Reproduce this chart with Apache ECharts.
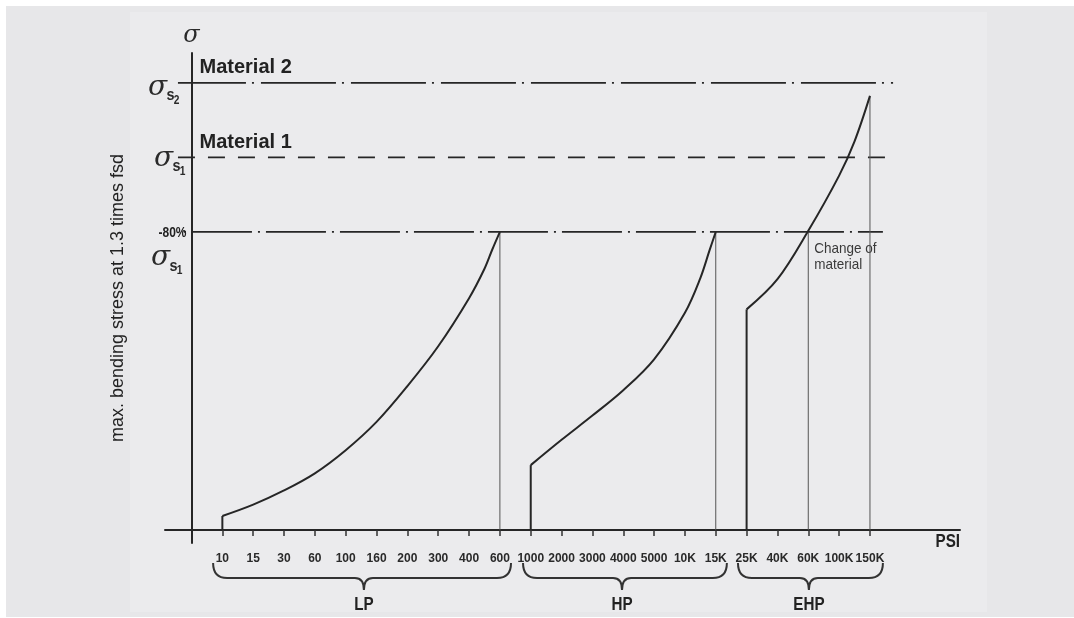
<!DOCTYPE html>
<html><head><meta charset="utf-8">
<script src="https://cdn.jsdelivr.net/npm/echarts@6/dist/echarts.min.js"></script>
<style>html,body{margin:0;padding:0;background:#fff}#c{width:1074px;height:618px}</style>
</head><body><div id="c"></div>
<script>
// ---- data ----
const categories = ['10','15','30','60','100','160','200','300','400','600','1000','2000','3000','4000','5000','10K','15K','25K','40K','60K','100K','150K'];
// category i is placed at x = i + 1 (the stress axis sits at x = 0)
const lpStart  = [[1,0],[1,3.75]];
const lpCurve  = [[1,3.75],[2,6.8],[3,10.6],[4,15.2],[5,21.4],[6,29.0],[7,38.6],[8,49.3],[9,62.2],[9.5,70.1],[9.75,75.2],[10,80]];
const hpStart  = [[11,0],[11,17.4]];
const hpCurve  = [[11,17.4],[12,24.2],[13,30.7],[14,37.5],[15,45.8],[16,58.3],[16.5,67.6],[16.8,75.1],[17,80]];
const ehpStart = [[18,0],[18,59.2]];
const ehpCurve = [[18,59.2],[19,67.3],[20,80.3],[21,95.1],[21.5,104.3],[22,116.5]];
const dropLines = [[[10,0],[10,80]],[[17,0],[17,80]],[[20,0],[20,80]],[[22,0],[22,116.5]]];
const sigmaS2 = 120, sigmaS1 = 100, pct80 = 80;
const lineS2  = [[-0.44,sigmaS2],[22.75,sigmaS2]];
const lineS1  = [[-0.44,sigmaS1],[22.49,sigmaS1]];
const line80  = [[-0.44,pct80],[22.42,pct80]];
const groupNames = ['LP','HP','EHP'];
const groupSpans = [[0.7,10.36,5.59],[10.75,17.36,13.96],[17.72,22.42,20.02]];

const SANS = "'Liberation Sans',Arial,sans-serif";
const INK = '#262626';

function lineSeries(data, opts) {
  return Object.assign({
    type:'line', data, symbol:'none', silent:true, animation:false,
    lineStyle:{color:INK, width:2}, z:3
  }, opts || {});
}

const series = [
  lineSeries(lineS2, {lineStyle:{color:INK, width:1.8, type:[75,6,2,7], dashOffset:7}}),
  lineSeries(lineS1, {lineStyle:{color:INK, width:1.8, type:[17,13]}}),
  lineSeries(line80, {lineStyle:{color:INK, width:1.8, type:[60,6,2,6], dashOffset:-14}}),
  ...dropLines.map(d => lineSeries(d, {lineStyle:{color:'#555', width:1}})),
  lineSeries(lpStart), lineSeries(hpStart), lineSeries(ehpStart),
  lineSeries(lpCurve, {smooth:0.35}),
  lineSeries(hpCurve, {smooth:0.35}),
  lineSeries(ehpCurve, {smooth:0.35}),
  {
    type:'custom', coordinateSystem:'cartesian2d', clip:false, silent:true, animation:false,
    data: groupSpans,
    renderItem(params, api) {
      const s = api.value(0), e = api.value(1), c = api.value(2);
      const p0 = api.coord([s,0]), p1 = api.coord([e,0]), pc = api.coord([c,0]);
      const y0 = p0[1];
      const top = y0 + 33, mid = y0 + 48, tip = y0 + 60, r = 14;
      const d = `M${p0[0]},${top} Q${p0[0]},${mid} ${p0[0]+r},${mid} L${pc[0]-9},${mid} Q${pc[0]},${mid} ${pc[0]},${tip} Q${pc[0]},${mid} ${pc[0]+9},${mid} L${p1[0]-r},${mid} Q${p1[0]},${mid} ${p1[0]},${top}`;
      return {type:'group', children:[
        {type:'path', shape:{pathData:d}, style:{fill:'none', stroke:'#333', lineWidth:2}},
        {type:'text', x:pc[0], y:y0+75, scaleX:0.8, style:{text:groupNames[params.dataIndex], align:'center', verticalAlign:'middle',
          fontSize:19, fontWeight:'bold', fontFamily:SANS, fill:'#222'}}
      ]};
    }
  }
];

const option = {
  backgroundColor:'#ffffff',
  animation:false,
  grid:{left:165, right:114, top:53, bottom:75, containLabel:false, outerBoundsMode:'none'},
  xAxis:{
    type:'value', min:-0.86, max:24.92,
    axisLine:{show:true, onZero:true, lineStyle:{color:INK, width:2}},
    splitLine:{show:false},
    axisTick:{show:true, inside:false, length:6, customValues:categories.map((c,i)=>i+1), lineStyle:{color:'#333', width:1.5}},
    axisLabel:{show:true, margin:10, hideOverlap:false, customValues:categories.map((c,i)=>i+1),
      formatter:v => categories[Math.round(v)-1] || '',
      fontFamily:SANS, fontWeight:'bold', fontSize:12, color:'#2a2a2a'}
  },
  yAxis:{
    type:'value', min:-3.5, max:128,
    axisLine:{show:true, onZero:true, lineStyle:{color:INK, width:2}},
    splitLine:{show:false}, axisTick:{show:false}, axisLabel:{show:false},
    name:'max. bending stress at 1.3 times fsd', nameLocation:'middle', nameRotate:90, nameGap:38,
    nameMoveOverlap:false,
    nameTextStyle:{fontFamily:SANS, fontSize:18, color:'#222'}
  },
  series
};

const chart = echarts.init(document.getElementById('c'), null, {renderer:'canvas'});
chart.setOption(option);

const px = (u,v) => chart.convertToPixel({gridIndex:0}, [u,v]);
const [ax0, y2] = px(0, sigmaS2);
const y1 = px(0, sigmaS1)[1];
const y8 = px(0, pct80)[1];
const yTop = px(0, 128)[1];
const [xEnd, yAxisX] = px(24.92, 0);
const xChange = px(20, 0)[0];

function sig(x, y, digit) {
  return [
    {type:'text', x:x, y:y+2, style:{text:'σ', font:"italic 28px 'DejaVu Serif',serif", fill:'#2a2a2a', align:'center', verticalAlign:'middle'}},
    {type:'text', x:x+13, y:y+10, scaleX:0.85, style:{text:'s', font:"bold 17px "+SANS, fill:'#2a2a2a', align:'center', verticalAlign:'middle'}},
    {type:'text', x:x+19, y:y+15, scaleX:0.85, style:{text:digit, font:"bold 12px "+SANS, fill:'#2a2a2a', align:'center', verticalAlign:'middle'}}
  ];
}
function txt(x, y, text, font, extra, sx) {
  return {type:'text', x, y, scaleX:sx||1, style:Object.assign({text, font, fill:'#222', align:'left', verticalAlign:'middle'}, extra||{})};
}

chart.setOption({
  graphic:[
    {type:'rect', z:-100, silent:true, shape:{x:6, y:6, width:1068, height:611}, style:{fill:'#e7e7e9'}},
    {type:'rect', z:-99, silent:true, shape:{x:130, y:12, width:857, height:600}, style:{fill:'#ebebed'}},
    {type:'text', x:ax0, y:yTop-17, style:{text:'σ', font:"italic 24px 'DejaVu Serif',serif", fill:'#2a2a2a', align:'center', verticalAlign:'middle'}},
    ...sig(ax0-34, y2+3, '2'),
    ...sig(ax0-28, y1-1, '1'),
    txt(ax0-5, y8+1, '-80%', "bold 15px "+SANS, {align:'right'}, 0.8),
    ...sig(ax0-31, y8+24, '1'),
    txt(ax0+8, y2-15, 'Material 2', "bold 20px "+SANS, null, 1),
    txt(ax0+8, y1-15, 'Material 1', "bold 20px "+SANS, null, 1),
    txt(xChange+6, y8+17, 'Change of', "15px "+SANS, {fill:'#3a3a3a'}, 0.9),
    txt(xChange+6, y8+33, 'material', "15px "+SANS, {fill:'#3a3a3a'}, 0.9),
    txt(xEnd, yAxisX+12, 'PSI', "bold 19px "+SANS, {align:'right'}, 0.8)
  ]
});
</script></body></html>
